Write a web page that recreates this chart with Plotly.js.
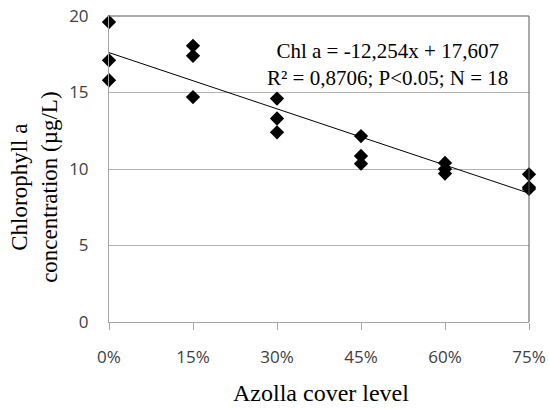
<!DOCTYPE html>
<html>
<head>
<meta charset="utf-8">
<script src="https://cdn.plot.ly/plotly-3.0.1.min.js"></script>
<style>html,body{margin:0;padding:0;background:#fff;}#chart{width:549px;height:409px;}</style>
</head>
<body>
<div id="chart"></div>
<script>
// Azolla cover level (fraction) for each observation
const coverLevels = [0, 0, 0, 0.15, 0.15, 0.15, 0.30, 0.30, 0.30, 0.45, 0.45, 0.45, 0.60, 0.60, 0.60, 0.75, 0.75, 0.75];
// Chlorophyll a concentration (µg/L)
const chlValues = [19.6, 17.1, 15.8, 18.05, 17.4, 14.7, 14.6, 13.3, 12.4, 12.15, 10.85, 10.35, 10.4, 10.0, 9.7, 9.65, 8.8, 8.7];
// Linear trend coefficients (from the chart's equation)
const slope = -12.254;
const intercept = 17.607;
const xTicks = [0, 0.15, 0.30, 0.45, 0.60, 0.75];
const yTicks = [0, 5, 10, 15, 20];
const eqLine1 = "Chl a = -12,254x + 17,607";
const eqLine2 = "R² = 0,8706; P<0.05; N = 18";
const xTitle = "Azolla cover level";
const yTitle = "Chlorophyll a<br>concentration (µg/L)";

const trendX = [xTicks[0], xTicks[xTicks.length - 1]];
const trendY = trendX.map(x => slope * x + intercept);

const traces = [
  {
    x: trendX, y: trendY, mode: 'lines', type: 'scatter',
    line: {color: '#000', width: 1}, hoverinfo: 'skip', cliponaxis: false
  },
  {
    x: coverLevels, y: chlValues, mode: 'markers', type: 'scatter',
    marker: {symbol: 'diamond', size: 11, color: '#000'}, cliponaxis: false
  }
];

const serif = 'Liberation Serif, Times New Roman, serif';
const sans = 'Open Sans, Liberation Sans, sans-serif';

const layout = {
  width: 549, height: 409,
  margin: {l: 109, r: 20, t: 16, b: 87},
  paper_bgcolor: '#fff', plot_bgcolor: '#fff',
  showlegend: false,
  xaxis: {
    range: [0, 0.75], tickvals: xTicks, tickformat: '.0%',
    showgrid: false, zeroline: false,
    showline: true, linecolor: '#a6a6a6', linewidth: 1,
    ticks: 'outside', ticklen: 7, tickcolor: '#a6a6a6',
    ticklabelstandoff: 13,
    tickfont: {family: sans, size: 17, color: '#404040'}
  },
  yaxis: {
    range: [0, 20], tickvals: yTicks,
    showgrid: true, gridcolor: '#b3b3b3', gridwidth: 1, zeroline: false,
    showline: true, linecolor: '#a6a6a6', linewidth: 1,
    ticks: '', ticklen: 0,
    ticklabelstandoff: 16,
    tickfont: {family: sans, size: 17, color: '#404040'}
  },
  shapes: [
    {type: 'line', xref: 'paper', yref: 'paper', x0: 0, x1: 1, y0: 1, y1: 1, line: {color: '#595959', width: 1}},
    {type: 'line', xref: 'paper', yref: 'paper', x0: 1, x1: 1, y0: 0, y1: 1, line: {color: '#595959', width: 1}}
  ],
  annotations: [
    {xref: 'paper', yref: 'paper', x: 0.664, y: 0.843, xanchor: 'center', yanchor: 'middle',
     text: eqLine1 + '<br>' + eqLine2, showarrow: false, align: 'center',
     font: {family: serif, size: 21, color: '#000'}},
    {xref: 'paper', yref: 'paper', x: 0.505, y: -0.232, xanchor: 'center', yanchor: 'middle',
     text: xTitle, showarrow: false,
     font: {family: serif, size: 24, color: '#000'}},
    {xref: 'paper', yref: 'paper', x: -0.179, y: 0.441, xanchor: 'center', yanchor: 'middle',
     text: yTitle, showarrow: false, textangle: -90, align: 'center',
     font: {family: serif, size: 23, color: '#000'}}
  ]
};

Plotly.newPlot('chart', traces, layout, {displayModeBar: false, staticPlot: true});
</script>
</body>
</html>
